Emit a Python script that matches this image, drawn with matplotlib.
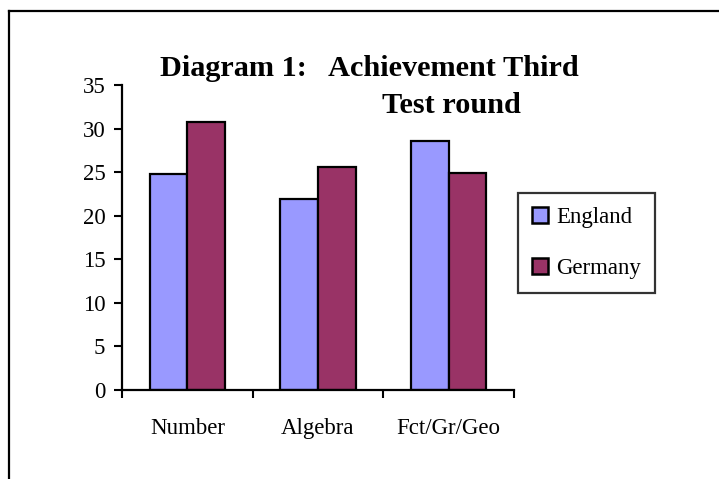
import matplotlib
matplotlib.use("Agg")

import matplotlib.pyplot as plt
from matplotlib.lines import Line2D
import numpy as np

categories = ["Number", "Algebra", "Fct/Gr/Geo"]
england = [24.8, 21.9, 28.6]
germany = [30.7, 25.6, 24.9]
series_names = ["England", "Germany"]
yticks = [0, 5, 10, 15, 20, 25, 30, 35]

plt.rcParams["font.family"] = ["Liberation Serif", "DejaVu Serif"]

W, H = 719, 479
fig = plt.figure(figsize=(W / 100, H / 100), dpi=100)

# outer frame (only top and left edges are visible in the picture)
fig.add_artist(Line2D([8.5 / W, 8.5 / W], [0, 1 - 11 / H], transform=fig.transFigure,
                      color="black", lw=1.6))
fig.add_artist(Line2D([8.5 / W, 1], [1 - 11 / H, 1 - 11 / H], transform=fig.transFigure,
                      color="black", lw=1.6))

ax = fig.add_axes([122 / W, 89 / H, 392 / W, 305 / H])

x = np.arange(len(categories))
w = 0.288
ax.bar(x - w / 2, england, w, color="#9999FF", edgecolor="black", lw=1.6,
       label=series_names[0], zorder=2)
ax.bar(x + w / 2, germany, w, color="#993366", edgecolor="black", lw=1.6,
       label=series_names[1], zorder=2)

ax.set_xlim(-0.5, len(categories) - 0.5)
ax.set_ylim(0, 35)
ax.set_yticks(yticks)
ax.set_yticklabels([str(v) for v in yticks])

# category boundaries carry the tick marks, labels sit in between
ax.set_xticks(np.arange(len(categories) + 1) - 0.5)
ax.set_xticklabels([])
ax.set_xticks(x, minor=True)
ax.set_xticklabels(categories, minor=True)
ax.tick_params(axis="x", which="minor", length=0, pad=20, labelsize=16.5)
ax.tick_params(axis="x", which="major", length=6, width=1.5, direction="out")
ax.tick_params(axis="y", length=6, width=1.5, direction="out", labelsize=16.5, pad=6)

for s in ["top", "right"]:
    ax.spines[s].set_visible(False)
for s in ["left", "bottom"]:
    ax.spines[s].set_linewidth(1.6)

fig.text(369 / W, 1 - 76 / H, "Diagram 1:   Achievement Third", ha="center", va="baseline",
         fontsize=21.8, fontweight="bold")
fig.text(451 / W, 1 - 113 / H, "Test round", ha="center", va="baseline",
         fontsize=21.8, fontweight="bold")

leg = ax.legend(loc="upper left", bbox_to_anchor=(518 / W, 1 - 193 / H),
                bbox_transform=fig.transFigure, fontsize=16.5, frameon=True,
                fancybox=False, shadow=False, handlelength=0.7, handleheight=0.7,
                handletextpad=0.35, labelspacing=1.3, borderpad=0.62, borderaxespad=0)
leg.get_frame().set_edgecolor("black")
leg.get_frame().set_linewidth(1.6)
for p in leg.get_patches():
    p.set_linewidth(1.8)

fig.savefig("out.png", dpi=100)
